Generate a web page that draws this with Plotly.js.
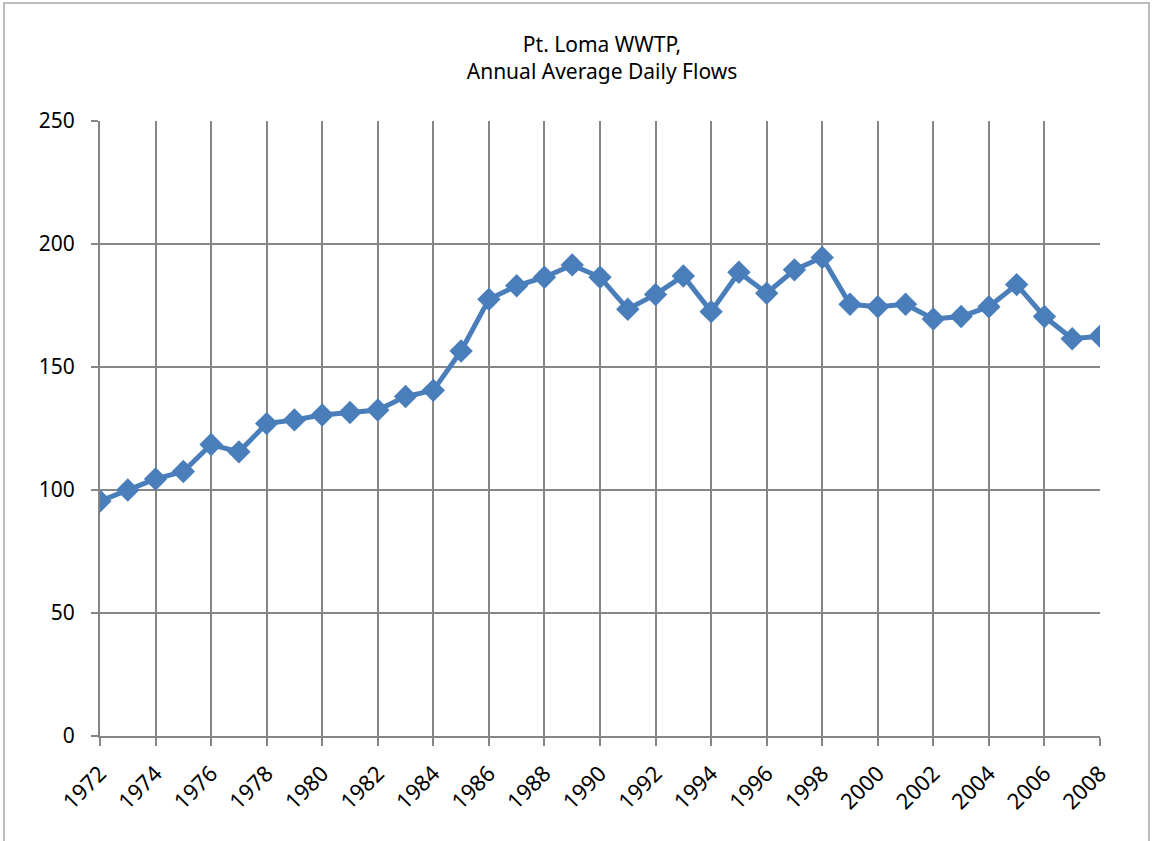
<!DOCTYPE html>
<html>
<head>
<meta charset="utf-8">
<script src="https://cdn.plot.ly/plotly-3.0.1.min.js"></script>
<style>html,body{margin:0;padding:0;background:#fff;}#chart{width:1152px;height:841px;}</style>
</head>
<body>
<div id="chart"></div>
<script>
const years = [1972,1973,1974,1975,1976,1977,1978,1979,1980,1981,1982,1983,1984,1985,1986,1987,1988,1989,1990,1991,1992,1993,1994,1995,1996,1997,1998,1999,2000,2001,2002,2003,2004,2005,2006,2007,2008];
const flows = [95.5,100,104.5,107.5,118.5,115.5,127,128.5,130.5,131.5,132.5,138,140.5,156.5,177.5,183,186.5,191.5,186.5,173.5,179.5,187,172.5,188.5,180,189.5,194.5,175.5,174.5,175.5,169.5,170.5,174.5,183.5,170.5,161.5,162.5];
const yTicks = [0,50,100,150,200,250];
const titleLines = ['Pt. Loma WWTP,', 'Annual Average Daily Flows'];

const font = '"Noto Sans", "DejaVu Sans", sans-serif';
const labelYears = years.filter(y => (y - 1972) % 2 === 0);

const trace = {
  x: years, y: flows, type: 'scatter', mode: 'lines+markers',
  line: {color: '#4a7ebb', width: 5},
  marker: {symbol: 'diamond', size: 18, color: '#4a7ebb'},
  hoverinfo: 'x+y'
};

const layout = {
  width: 1152, height: 841,
  margin: {l: 100, r: 52, t: 121, b: 105},
  paper_bgcolor: '#fff', plot_bgcolor: '#fff',
  showlegend: false,
  title: {text: titleLines.join('<br>'), x: 0.502, xref: 'paper', y: 0.938, yanchor: 'middle',
          font: {family: font, size: 21, color: '#000'}},
  xaxis: {
    range: [1972, 2008], tickmode: 'array', tickvals: labelYears,
    ticktext: labelYears.map(String),
    tickangle: -45, showgrid: true, gridcolor: '#868686', gridwidth: 2,
    ticks: 'outside', ticklen: 8, tickwidth: 2, tickcolor: '#868686',
    showline: true, linecolor: '#868686', linewidth: 2, zeroline: false,
    tickfont: {family: font, size: 22, color: '#000'}, ticklabelstandoff: 6, fixedrange: true
  },
  yaxis: {
    range: [0, 250], tickmode: 'array', tickvals: yTicks, ticktext: yTicks.map(String),
    showgrid: true, gridcolor: '#868686', gridwidth: 2,
    ticks: 'outside', ticklen: 7, tickwidth: 2, tickcolor: '#868686',
    showline: true, linecolor: '#868686', linewidth: 2, zeroline: false,
    tickfont: {family: font, size: 21, color: '#000'}, ticklabelstandoff: 12, fixedrange: true
  },
  shapes: [{type: 'rect', xref: 'paper', yref: 'paper', x0: -0.096, x1: 1.049, y0: -0.18, y1: 1.1919,
            line: {color: '#a6a6a6', width: 1.5}, fillcolor: 'rgba(0,0,0,0)', layer: 'below'}]
};

Plotly.newPlot('chart', [trace], layout, {displayModeBar: false, staticPlot: true});
</script>
</body>
</html>
